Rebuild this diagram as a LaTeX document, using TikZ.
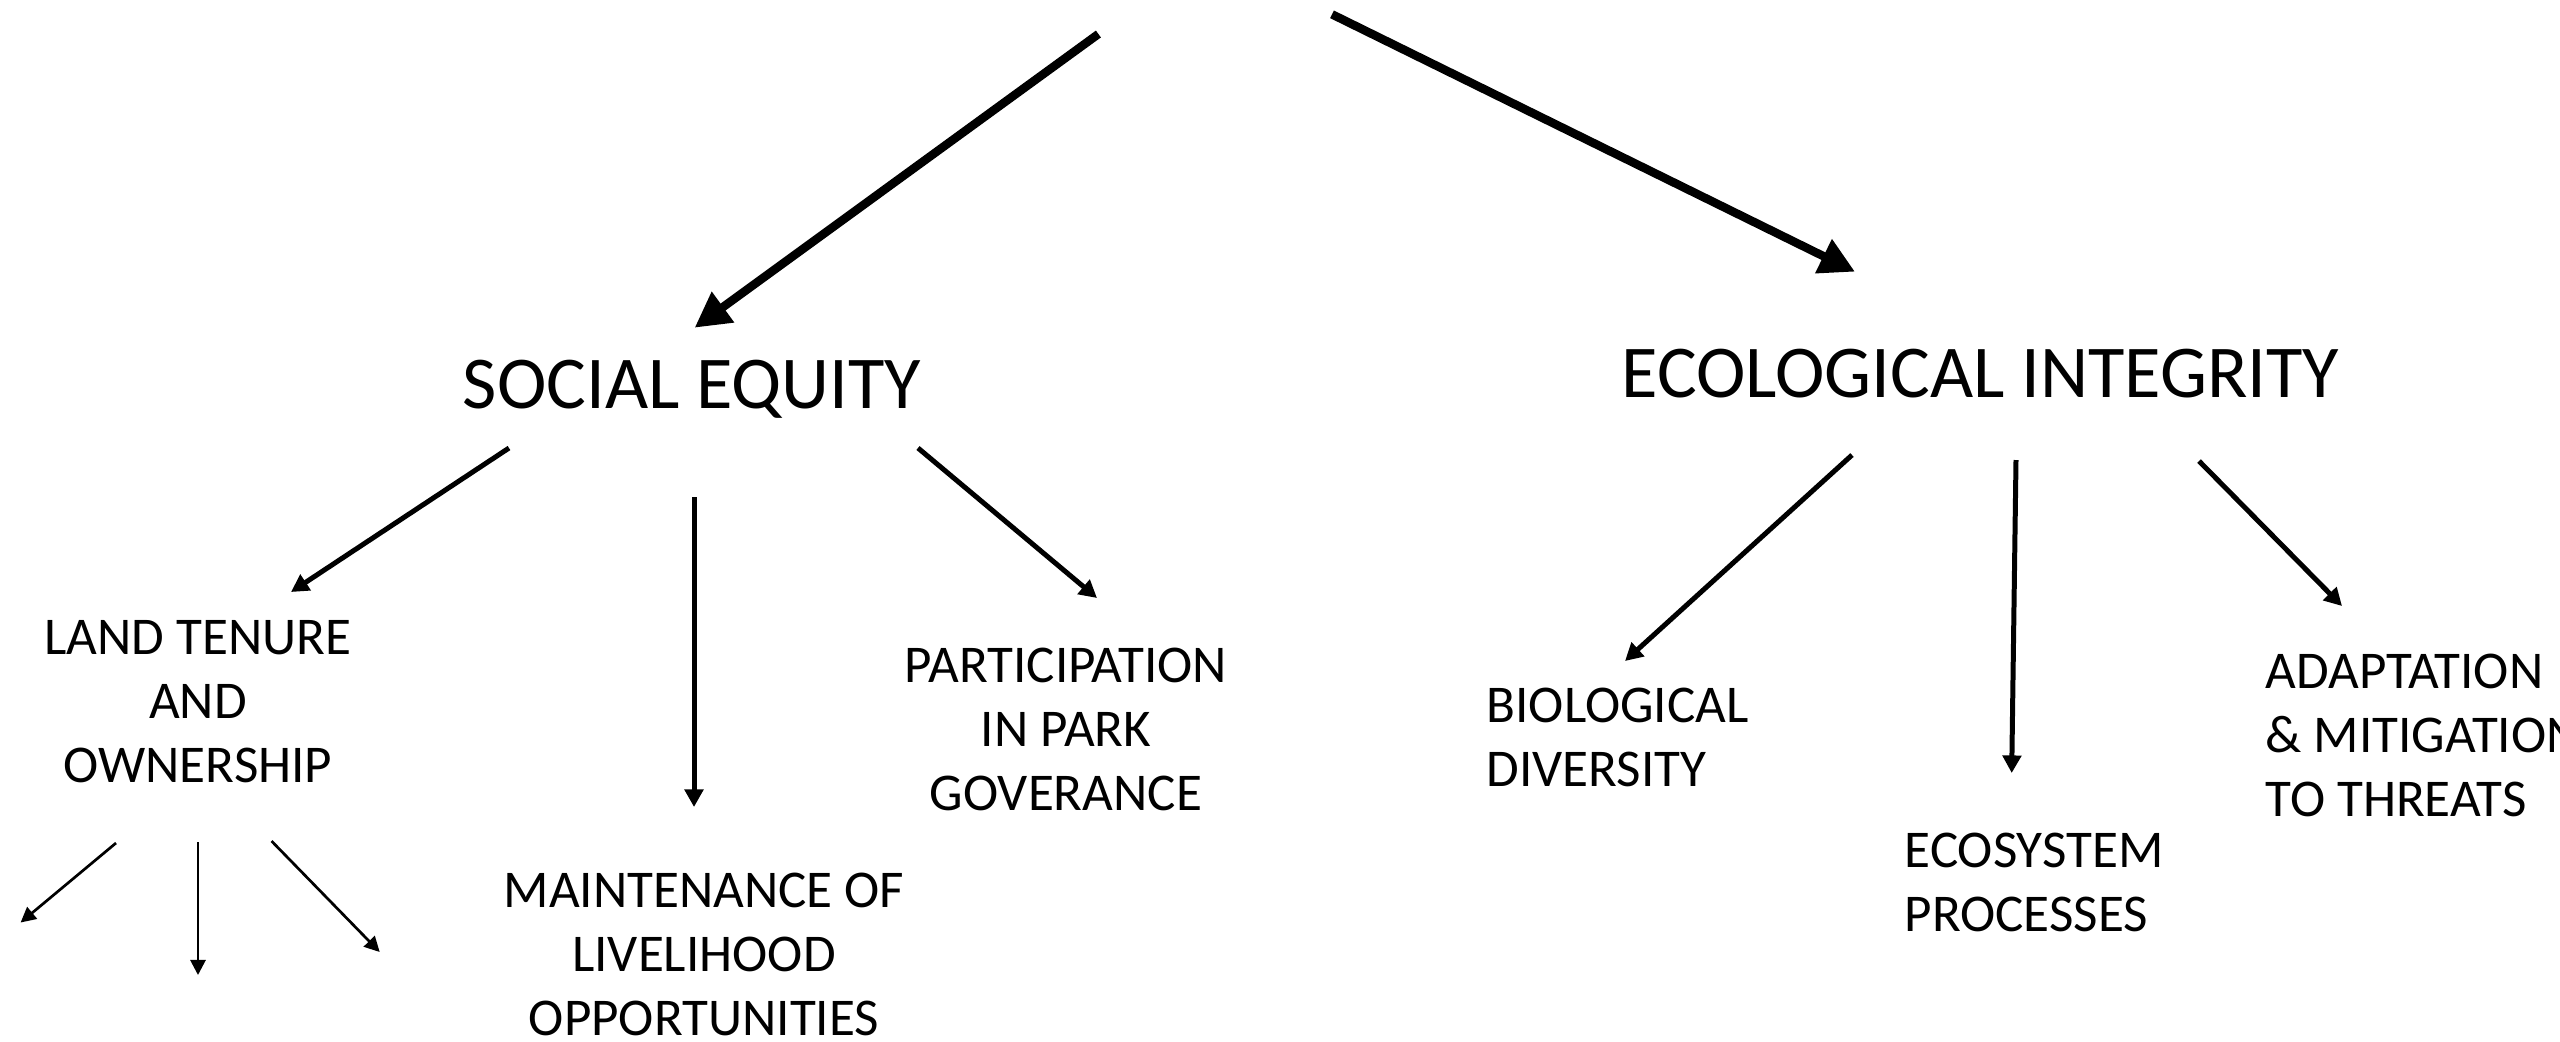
\documentclass[tikz,border=0pt]{standalone}
\usepackage{fontspec}
\setmainfont{Carlito}
\usetikzlibrary{arrows.meta}
\begin{document}
\begin{tikzpicture}[x=0.01cm,y=-0.01cm,
  bigarrow/.style={-{Triangle[length=10pt,width=10.2pt]}, line width=2.42pt},
  midarrow/.style={-{Triangle[length=5pt,width=5.2pt]}, line width=1.42pt},
  smlarrow/.style={-{Triangle[length=4.3pt,width=4.3pt]}, line width=0.77pt},
  lbl/.style={inner sep=0pt, font=\fontsize{15.1}{18.21}\selectfont},
  headlbl/.style={inner sep=0pt, font=\fontsize{21.2}{25}\selectfont}]
\useasboundingbox (0,0) rectangle (2560,1041);

% main headings
\node[headlbl, anchor=base] (se) at (692,408) {SOCIAL EQUITY};
\node[headlbl, anchor=base] (ei) at (1980.5,397) {ECOLOGICAL INTEGRITY};

% social equity children
\node[lbl, anchor=base] (lt) at (198,654) {\begin{tabular}[t]{@{}c@{}}LAND TENURE\\AND\\OWNERSHIP\end{tabular}};
\node[lbl, anchor=base] (mt) at (704,907) {\begin{tabular}[t]{@{}c@{}}MAINTENANCE OF\\LIVELIHOOD\\OPPORTUNITIES\end{tabular}};
\node[lbl, anchor=base] (pp) at (1066,682) {\begin{tabular}[t]{@{}c@{}}PARTICIPATION\\IN PARK\\GOVERANCE\end{tabular}};

% ecological integrity children
\node[lbl, anchor=base west] (bd) at (1486,722) {\begin{tabular}[t]{@{}l@{}}BIOLOGICAL\\DIVERSITY\end{tabular}};
\node[lbl, anchor=base west] (ep) at (1904,867) {\begin{tabular}[t]{@{}l@{}}ECOSYSTEM\\PROCESSES\end{tabular}};
\node[lbl, anchor=base west] (am) at (2265,688) {\begin{tabular}[t]{@{}l@{}}ADAPTATION\\\& MITIGATION\\TO THREATS\end{tabular}};

% arrow end points
\coordinate (t1s) at (1098.4,34);
\coordinate (t1e) at (694.6,327.7);
\coordinate (t2s) at (1332,14.3);
\coordinate (t2e) at (1855,271.7);

\coordinate (s1s) at (509,448);
\coordinate (s1e) at (291,592);
\coordinate (s2s) at (694,497);
\coordinate (s2e) at (694,807);
\coordinate (s3s) at (918,448);
\coordinate (s3e) at (1097,598);

\coordinate (l1s) at (116,843);
\coordinate (l1e) at (20.6,922.5);
\coordinate (l2s) at (198,842);
\coordinate (l2e) at (198,975);
\coordinate (l3s) at (271.5,841);
\coordinate (l3e) at (379.7,952);

\coordinate (e1s) at (1852,455);
\coordinate (e1e) at (1625,661);
\coordinate (e2s) at (2016,460);
\coordinate (e2e) at (2011.7,773);
\coordinate (e3s) at (2199,461);
\coordinate (e3e) at (2342,606);

% arrows
\draw[bigarrow] (t1s) -- (t1e);
\draw[bigarrow] (t2s) -- (t2e);

\draw[midarrow] (s1s) -- (s1e);
\draw[midarrow] (s2s) -- (s2e);
\draw[midarrow] (s3s) -- (s3e);

\draw[smlarrow] (l1s) -- (l1e);
\draw[smlarrow] (l2s) -- (l2e);
\draw[smlarrow] (l3s) -- (l3e);

\draw[midarrow] (e1s) -- (e1e);
\draw[midarrow] (e2s) -- (e2e);
\draw[midarrow] (e3s) -- (e3e);
\end{tikzpicture}
\end{document}
